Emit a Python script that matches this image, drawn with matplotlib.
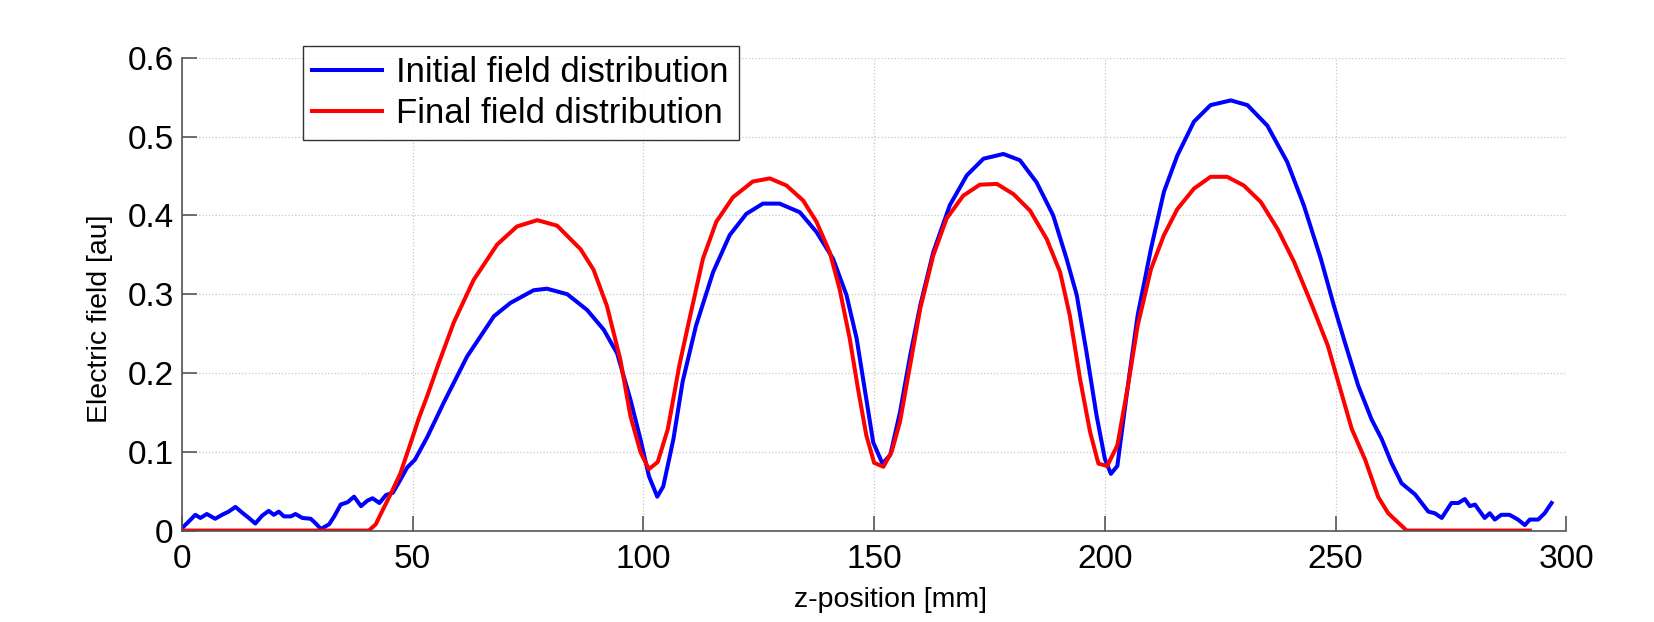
import matplotlib
matplotlib.use("Agg")
import matplotlib.pyplot as plt

# values
z_init = [0, 1.4, 2.9, 4.0, 5.4, 7.2, 8.7, 10.1, 11.6, 13.0,
          14.5, 15.9, 17.4, 18.8, 19.9, 21.0, 22.1, 23.6, 24.6, 26.1,
          27.9, 29.0, 30.1, 31.9, 33.0, 34.4, 35.9, 37.3, 38.8, 40.2,
          41.3, 42.8, 44.2, 45.7, 47.1, 48.8, 50.5, 53.1, 56.7, 61.8,
          67.6, 71.2, 76.2, 79.1, 83.5, 87.8, 91.4, 94.3, 97.2, 99.4,
          101.2, 103.0, 104.3, 106.5, 108.5, 111.4, 115.1, 118.7, 122.3, 125.9,
          129.5, 133.9, 137.5, 141.1, 144.0, 146.2, 148.3, 149.8, 151.8, 153.5,
          155.6, 157.8, 160.0, 162.8, 166.4, 170.1, 173.7, 178.0, 181.6, 185.2,
          188.8, 191.7, 193.9, 196.0, 198.2, 200.0, 201.3, 202.7, 204.9, 207.1,
          210.0, 212.8, 215.7, 219.3, 222.9, 227.3, 230.9, 235.2, 239.5, 243.1,
          246.8, 249.6, 252.0, 254.9, 257.8, 260.0, 262.1, 264.3, 267.2, 270.1,
          271.5, 273.0, 275.1, 276.6, 278.0, 279.1, 280.2, 282.3, 283.4, 284.5,
          285.9, 287.7, 289.5, 291.0, 292.1, 293.9, 295.3, 296.8]
e_init = [0.003, 0.011, 0.020, 0.016, 0.021, 0.015, 0.020, 0.024, 0.030, 0.023,
          0.016, 0.009, 0.019, 0.025, 0.020, 0.024, 0.018, 0.018, 0.021, 0.016,
          0.015, 0.009, 0.002, 0.008, 0.018, 0.033, 0.036, 0.043, 0.031, 0.038,
          0.041, 0.035, 0.045, 0.048, 0.062, 0.080, 0.090, 0.118, 0.162, 0.221,
          0.272, 0.289, 0.305, 0.307, 0.300, 0.280, 0.255, 0.225, 0.166, 0.115,
          0.069, 0.043, 0.056, 0.116, 0.189, 0.260, 0.328, 0.375, 0.402, 0.415,
          0.415, 0.404, 0.379, 0.345, 0.299, 0.244, 0.167, 0.112, 0.085, 0.096,
          0.150, 0.222, 0.286, 0.353, 0.413, 0.451, 0.472, 0.478, 0.470, 0.442,
          0.400, 0.345, 0.299, 0.227, 0.146, 0.091, 0.072, 0.082, 0.180, 0.273,
          0.358, 0.430, 0.476, 0.519, 0.540, 0.546, 0.540, 0.514, 0.468, 0.413,
          0.345, 0.286, 0.239, 0.184, 0.141, 0.116, 0.086, 0.060, 0.046, 0.024,
          0.022, 0.016, 0.035, 0.035, 0.040, 0.031, 0.033, 0.016, 0.022, 0.014,
          0.020, 0.020, 0.014, 0.007, 0.014, 0.014, 0.022, 0.035]

z_final = [0, 40.5, 42.0, 43.0, 45.2, 47.3, 49.5, 51.3, 53.1, 55.5,
           58.9, 63.2, 68.3, 72.6, 77.0, 81.3, 86.4, 89.2, 92.1, 95.0,
           97.2, 99.4, 101.2, 103.1, 105.3, 107.8, 110.0, 112.9, 115.8, 119.4,
           123.7, 127.4, 131.0, 134.6, 137.5, 140.4, 142.5, 144.7, 146.5, 148.3,
           150.0, 152.0, 153.8, 155.6, 157.8, 160.0, 162.8, 165.7, 169.3, 172.9,
           176.6, 180.2, 183.8, 187.4, 190.3, 192.4, 194.6, 196.8, 198.6, 200.5,
           202.7, 204.9, 207.1, 210.0, 212.8, 215.7, 219.3, 222.9, 226.5, 230.1,
           233.8, 237.4, 241.0, 244.6, 248.3, 250.6, 253.5, 256.4, 259.2, 261.4,
           265.4, 292.1]
e_final = [0, 0, 0.008, 0.020, 0.046, 0.072, 0.110, 0.142, 0.170, 0.210,
           0.264, 0.318, 0.363, 0.386, 0.394, 0.387, 0.357, 0.331, 0.285, 0.217,
           0.145, 0.099, 0.078, 0.087, 0.129, 0.210, 0.269, 0.345, 0.392, 0.423,
           0.443, 0.447, 0.438, 0.419, 0.392, 0.353, 0.307, 0.244, 0.180, 0.121,
           0.086, 0.081, 0.100, 0.138, 0.210, 0.282, 0.349, 0.396, 0.425, 0.439,
           0.440, 0.427, 0.406, 0.370, 0.328, 0.273, 0.193, 0.125, 0.085, 0.082,
           0.108, 0.180, 0.260, 0.332, 0.375, 0.408, 0.434, 0.449, 0.449, 0.438,
           0.417, 0.383, 0.341, 0.290, 0.235, 0.188, 0.129, 0.090, 0.043, 0.022,
           0, 0]

labels = ["Initial field distribution", "Final field distribution"]

plt.rcParams['font.family'] = ['Liberation Sans', 'DejaVu Sans']

fig = plt.figure(figsize=(16.54, 6.22), dpi=100)
ax = fig.add_axes([0.110, 0.147, 0.837, 0.760])

ax.plot(z_init, e_init, color=(0, 0, 1), lw=2.9, label=labels[0])
ax.plot(z_final, e_final, color=(1, 0, 0), lw=2.9, label=labels[1])

ax.set_xlim(0, 300)
ax.set_ylim(0, 0.6)
ax.set_xticks([0, 50, 100, 150, 200, 250, 300])
ax.set_yticks([0, 0.1, 0.2, 0.3, 0.4, 0.5, 0.6])
ax.set_yticklabels(["0", "0.1", "0.2", "0.3", "0.4", "0.5", "0.6"])
ax.grid(True, linestyle=':', color='#c8c8c8', lw=0.9)
ax.set_axisbelow(True)

for s in ['top', 'right']:
    ax.spines[s].set_visible(False)
for s in ['left', 'bottom']:
    ax.spines[s].set_color('#555555')
    ax.spines[s].set_linewidth(1.2)
ax.tick_params(direction='in', length=10.5, width=1.2, color='#555555',
               labelsize=24, pad=6)
ax.tick_params(axis='x', pad=10)

ax.set_xlabel("z-position [mm]", fontsize=20.5)
ax.set_ylabel("Electric field [au]", fontsize=20.5)
ax.xaxis.set_label_coords(0.512, -0.12)
ax.yaxis.set_label_coords(-0.05, 0.449)

leg = ax.legend(loc='upper left', bbox_to_anchor=(0.183, 0.926),
                bbox_transform=fig.transFigure, fontsize=25,
                frameon=True, fancybox=False, edgecolor='black',
                borderaxespad=0, handlelength=2.0, handletextpad=0.42,
                labelspacing=0.25, borderpad=0.28)
leg.get_frame().set_linewidth(1.0)

fig.savefig("out.png", dpi=100)
